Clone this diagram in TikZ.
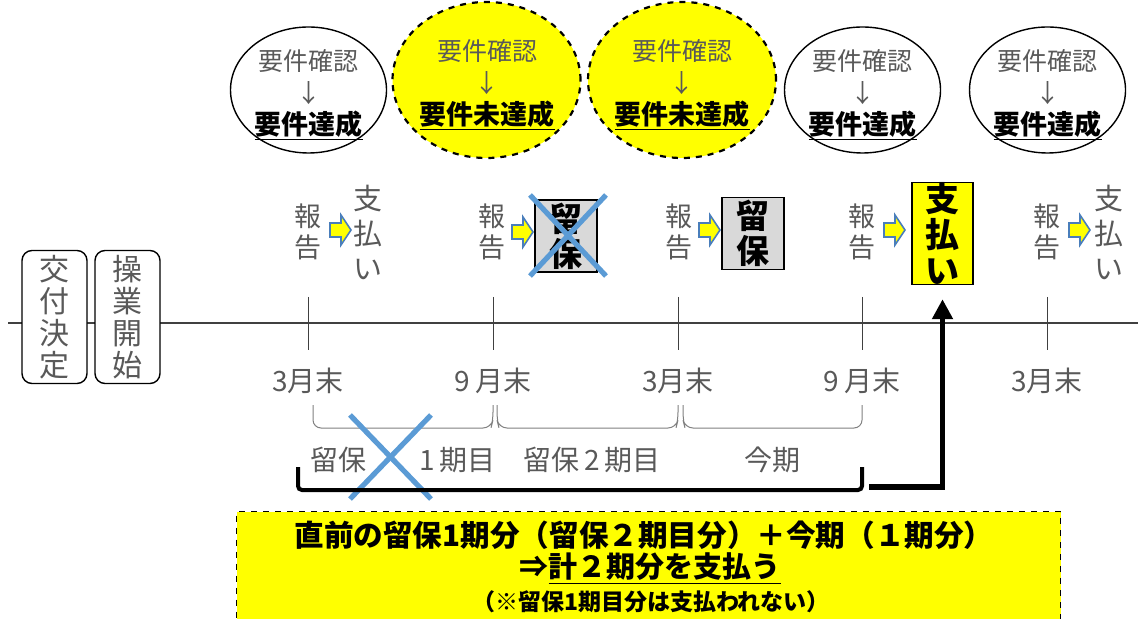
\documentclass[tikz,border=0pt]{standalone}
\usepackage{fontspec}
\setmainfont{Noto Sans CJK JP}
\usetikzlibrary{shapes.geometric,arrows.meta}
\definecolor{yel}{HTML}{FFFF00}
\definecolor{txtgray}{HTML}{595959}
\definecolor{boxgray}{HTML}{D9D9D9}
\definecolor{xblue}{HTML}{5B9BD5}
\definecolor{ablue}{HTML}{4A7EBB}
\definecolor{linegray}{HTML}{404040}
\newcommand\blockarr[2]{%
  \begin{scope}[shift={(#1,#2)}]
    \draw[fill=yel,draw=ablue,line width=0.8pt,line join=miter]
      (0,-7)--(11,-7)--(11,-15)--(21,0)--(11,15)--(11,7)--(0,7)--cycle;
  \end{scope}}
\begin{document}
\begin{tikzpicture}[x=0.5pt,y=-0.5pt,
  okell/.style={draw=black,line width=0.7pt,ellipse,minimum width=78pt,minimum height=63pt,fill=white},
  ngell/.style={draw=black,line width=1.1pt,dashed,ellipse,minimum width=94pt,minimum height=78pt,fill=yel},
  elltext/.style={align=center,inner sep=0pt,font={\fontsize{12.5}{16}\selectfont}},
  vt/.style={align=center,inner sep=0pt,text=txtgray,font={\fontsize{13.5}{15.5}\selectfont}},
  vt2/.style={align=center,inner sep=0pt,text=txtgray,font={\fontsize{14.5}{17.5}\selectfont}},
  holdbox/.style={draw=black,line width=0.7pt,fill=boxgray,minimum width=31pt,minimum height=36pt,align=center,inner sep=0pt,font={\bfseries\fontsize{16.5}{17.5}\selectfont}},
  paybox/.style={draw=black,line width=0.7pt,fill=yel,minimum width=30.5pt,minimum height=50.5pt,align=center,inner sep=0pt,font={\bfseries\fontsize{17}{18}\selectfont}},
  stage/.style={draw=black,line width=0.7pt,fill=white,rounded corners=5pt,minimum width=32.5pt,minimum height=66.5pt,align=center,inner sep=0pt,text=txtgray,font={\fontsize{15}{16}\selectfont}},
  tick/.style={draw=linegray,line width=0.5pt},
  mlabel/.style={inner sep=0pt,text=txtgray,font={\fontsize{14}{16}\selectfont}},
  brk/.style={draw=gray,line width=0.5pt,rounded corners=4pt},
  xmark/.style={draw=xblue,line width=2.6pt},
  bigbrk/.style={draw=black,line width=2pt,rounded corners=2pt},
  bigarrow/.style={draw=black,line width=2.6pt,-{Triangle[length=10pt,width=10pt]}},
  summary/.style={draw=black,line width=0.6pt,dashed,fill=yel}
]
\useasboundingbox (0,0) rectangle (1138,619);
\clip (0,0) rectangle (1138,619);

% requirement circles
\node[okell] (c1) at (308.5,90) {};
\node[elltext] (t1) at (308.5,95) {\textcolor{txtgray}{要件確認}\\\textcolor{txtgray}{↓}\\\textbf{\fontsize{13.5}{16}\selectfont\underline{要件達成}}};
\node[ngell] (c2) at (486.5,80) {};
\node[elltext] (t2) at (487,85) {\textcolor{txtgray}{要件確認}\\\textcolor{txtgray}{↓}\\\textbf{\fontsize{13.5}{16}\selectfont\underline{要件未達成}}};
\node[ngell] (c3) at (682,80) {};
\node[elltext] (t3) at (682,85) {\textcolor{txtgray}{要件確認}\\\textcolor{txtgray}{↓}\\\textbf{\fontsize{13.5}{16}\selectfont\underline{要件未達成}}};
\node[okell] (c4) at (862.5,90) {};
\node[elltext] (t4) at (862.5,95) {\textcolor{txtgray}{要件確認}\\\textcolor{txtgray}{↓}\\\textbf{\fontsize{13.5}{16}\selectfont\underline{要件達成}}};
\node[okell] (c5) at (1047.5,90) {};
\node[elltext] (t5) at (1047.5,95) {\textcolor{txtgray}{要件確認}\\\textcolor{txtgray}{↓}\\\textbf{\fontsize{13.5}{16}\selectfont\underline{要件達成}}};

% main timeline
\coordinate (lineL) at (8,323);
\coordinate (lineR) at (1138,323);
\draw[draw=linegray,line width=0.6pt] (lineL) -- (lineR);

% stage boxes
\node[stage] (s1) at (54.5,317) {交\\付\\決\\定};
\node[stage] (s2) at (127.5,317) {操\\業\\開\\始};

% ticks and month labels
\foreach \x/\lab [count=\i] in {308/3月末,493/9\,月末,678/3月末,862/9\,月末,1047/3月末}{
  \coordinate (tt\i) at (\x,297);
  \coordinate (tb\i) at (\x,350);
  \draw[tick] (tt\i) -- (tb\i);
  \node[mlabel] (m\i) at (\x,381) {\lab};
}

% report -> outcome row
\node[vt] (r1) at (308,232) {報\\告};
\blockarr{330}{230}
\node[vt2] (o1) at (368,232) {支\\払\\い};

\node[vt] (r2) at (492,232) {報\\告};
\blockarr{512}{232}
\node[holdbox] (h1) at (566,236) {留\\保};
\coordinate (xa1) at (530,195);
\coordinate (xa2) at (606,276);
\coordinate (xa3) at (606,195);
\coordinate (xa4) at (530,276);
\draw[xmark] (xa1) -- (xa2);
\draw[xmark] (xa3) -- (xa4);

\node[vt] (r3) at (679,232) {報\\告};
\blockarr{699}{230}
\node[holdbox] (h2) at (753,233.5) {留\\保};

\node[vt] (r4) at (862,232) {報\\告};
\blockarr{884}{230}
\node[paybox] (pay) at (942.5,233.5) {支\\払\\い};

\node[vt] (r5) at (1047,232) {報\\告};
\blockarr{1069}{230}
\node[vt2] (o5) at (1109,232) {支\\払\\い};

% thin brackets
\coordinate (b1a) at (313,405); \coordinate (b1b) at (493,405);
\coordinate (b2a) at (497,405); \coordinate (b2b) at (678,405);
\coordinate (b3a) at (683,405); \coordinate (b3b) at (862,405);
\draw[brk] (b1a) -- (313,428) -- (491,428) -- (493,420) -- (b1b);
\draw[brk] (b2a) -- (497,420) -- (499,428) -- (676,428) -- (678,420) -- (b2b);
\draw[brk] (b3a) -- (683,420) -- (685,428) -- (862,428) -- (b3b);

% period labels
\node[mlabel] (p1) at (403,460) {留保\hspace{1.9em}1\,期目};
\node[mlabel] (p2) at (592,460) {留保\,2\,期目};
\node[mlabel] (p3) at (772,460) {今期};
\coordinate (xb1) at (350,415);
\coordinate (xb2) at (431,499);
\coordinate (xb3) at (431,415);
\coordinate (xb4) at (350,499);
\draw[xmark] (xb1) -- (xb2);
\draw[xmark] (xb3) -- (xb4);

% thick bracket and arrow to payment
\coordinate (gL) at (298,467);
\coordinate (gR) at (862,467);
\draw[bigbrk] (gL) -- (298,490) -- (862,490) -- (gR);
\coordinate (arrStart) at (869,487);
\draw[bigarrow,shorten >=7pt] (arrStart) -| (pay.south);

% summary box
\node[summary,minimum width=412pt,minimum height=62pt,anchor=north west] (sum) at (236,511) {};
\node[inner sep=0pt,font={\bfseries\fontsize{14.8}{17}\selectfont}] (sl1) at (644,535) {直前の留保1期分（留保２期目分）＋今期（１期分）};
\node[inner sep=0pt,font={\bfseries\fontsize{14.5}{17}\selectfont}] (sl2) at (650,569) {⇒\underline{計２期分を支払う}};
\node[inner sep=0pt,font={\bfseries\fontsize{11.5}{13}\selectfont}] (sl3) at (651,602) {（※留保1期目分は支払われない）};
\end{tikzpicture}
\end{document}
